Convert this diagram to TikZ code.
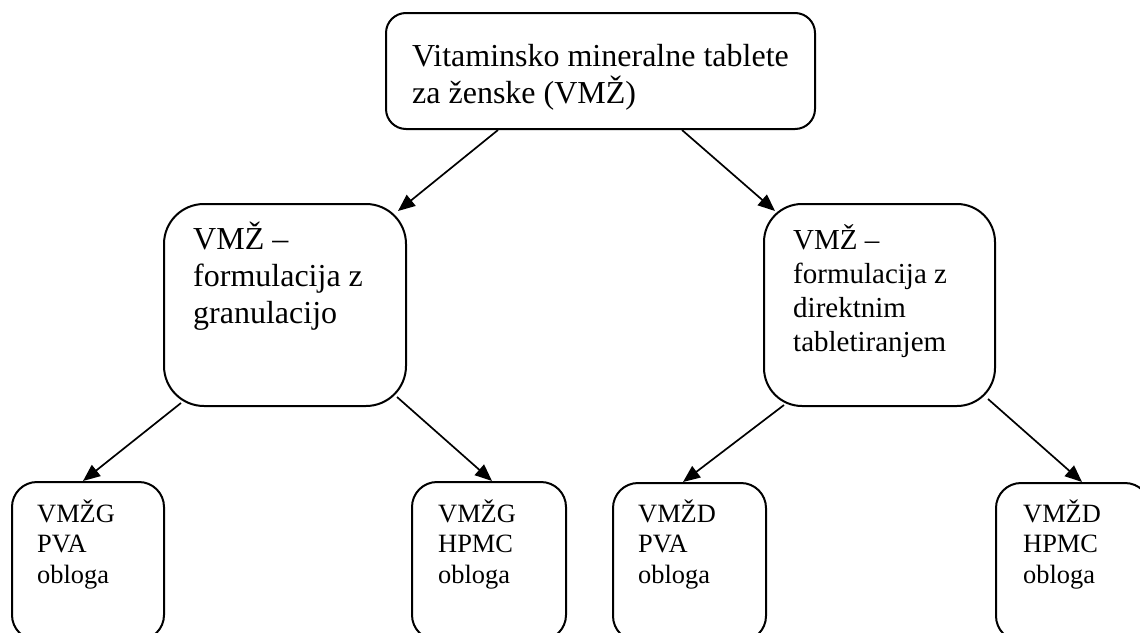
\documentclass[tikz,border=0pt]{standalone}
\usepackage{fontspec}
\setmainfont{Liberation Serif}
\usetikzlibrary{arrows.meta}
\begin{document}
\begin{tikzpicture}[x=1pt,y=-1pt,
  box/.style={draw, line width=2pt, rounded corners=#1, inner sep=0pt},
  arr/.style={-{Triangle[length=17pt,width=14pt]}, line width=1.7pt},
  txt/.style={anchor=base west, inner sep=0pt},
  big/.style={font={\fontsize{32}{35}\selectfont}},
  bigl/.style={font={\fontsize{32}{37}\selectfont}},
  mid/.style={font={\fontsize{29}{34.3}\selectfont}},
  small/.style={font={\fontsize{26.4}{30.5}\selectfont}}]
\path[use as bounding box] (0,0) rectangle (1140,632);
\clip (0,0) rectangle (1140,632);
\fill[white] (0,0) rectangle (1140,632);

% boxes
\node[box=20pt, minimum width=429pt, minimum height=116pt] (top) at (600.5,71) {};
\node[box=40pt, minimum width=242pt, minimum height=202pt] (gl) at (285,305) {};
\node[box=38pt, minimum width=231pt, minimum height=202pt] (dr) at (879.5,305) {};
\node[box=25pt, minimum width=152pt, minimum height=158pt] (b1) at (88,561) {};
\node[box=25pt, minimum width=154pt, minimum height=158pt] (b2) at (489,561) {};
\node[box=25pt, minimum width=153pt, minimum height=158pt] (b3) at (689.5,562) {};
\node[box=25pt, minimum width=154pt, minimum height=158pt] (b4) at (1073,562) {};

% texts
\node[txt, big] (ttop) at (412,66) {\begin{tabular}[t]{@{}l@{}}Vitaminsko mineralne tablete\\za ženske (VMŽ)\end{tabular}};
\node[txt, bigl] (tgl) at (193,249) {\begin{tabular}[t]{@{}l@{}}VMŽ –\\formulacija z\\granulacijo\end{tabular}};
\node[txt, mid] (tdr) at (793,249) {\begin{tabular}[t]{@{}l@{}}VMŽ –\\formulacija z\\direktnim\\tabletiranjem\end{tabular}};
\node[txt, small] (tb1) at (37,522) {\begin{tabular}[t]{@{}l@{}}VMŽG\\PVA\\obloga\end{tabular}};
\node[txt, small] (tb2) at (438,522) {\begin{tabular}[t]{@{}l@{}}VMŽG\\HPMC\\obloga\end{tabular}};
\node[txt, small] (tb3) at (638,522) {\begin{tabular}[t]{@{}l@{}}VMŽD\\PVA\\obloga\end{tabular}};
\node[txt, small] (tb4) at (1023,522) {\begin{tabular}[t]{@{}l@{}}VMŽD\\HPMC\\obloga\end{tabular}};

% connectors
\draw[arr] ([xshift=-102.5pt]top.south) -- ([xshift=-9pt,yshift=-8pt]gl.north east);
\draw[arr] ([xshift=81.5pt]top.south) -- ([xshift=12pt,yshift=-8pt]dr.north west);
\draw[arr] ([xshift=18pt,yshift=4pt]gl.south west) -- ([xshift=-5pt]b1.north);
\draw[arr] ([xshift=-10pt,yshift=10pt]gl.south east) -- ([xshift=3pt]b2.north);
\draw[arr] ([xshift=21pt,yshift=2pt]dr.south west) -- ([xshift=-6.5pt]b3.north);
\draw[arr] ([xshift=-8pt,yshift=8pt]dr.south east) -- ([xshift=9pt]b4.north);
\end{tikzpicture}
\end{document}
